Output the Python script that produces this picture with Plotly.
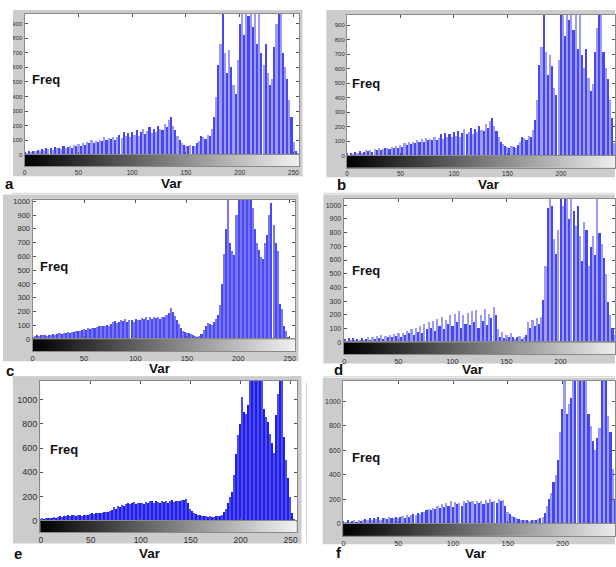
import plotly.graph_objects as go

# ---------------- data ----------------
bins = list(range(0, 256, 2))          # gray-level bins (pairs of levels)
gray_levels = list(range(256))          # gray ramp under each histogram
x_ticks = [0, 50, 100, 150, 200, 250]
panel_letters = ["a", "b", "c", "d", "e", "f"]
x_title = "Var"
y_title = "Freq"

freq_a = [20, 15, 25, 20, 30, 25, 35, 30, 40, 35,
          45, 40, 50, 35, 55, 45, 50, 40, 60, 50,
          55, 65, 50, 70, 60, 75, 65, 85, 70, 90,
          80, 100, 85, 95, 90, 105, 95, 120, 100, 115,
          110, 125, 105, 120, 140, 115, 155, 130, 150, 125,
          160, 140, 170, 130, 155, 175, 145, 165, 190, 150,
          180, 160, 200, 175, 170, 215, 190, 240, 260, 200,
          170, 130, 100, 85, 70, 65, 60, 70, 65, 60,
          80, 95, 130, 125, 110, 140, 130, 180, 260, 400,
          620, 760, 1100, 700, 560, 720, 600, 480, 420, 650,
          900, 1100, 820, 1100, 950, 1100, 880, 1100, 760, 980,
          700, 620, 760, 560, 480, 520, 740, 900, 1100, 1100,
          700, 600, 520, 380, 260, 90, 30, 10]

freq_b = [20, 10, 25, 15, 30, 20, 35, 25, 30, 40,
          35, 45, 30, 50, 40, 55, 45, 50, 60, 55,
          50, 65, 55, 70, 60, 80, 65, 90, 75, 95,
          85, 100, 90, 110, 95, 120, 100, 125, 110, 120,
          115, 130, 110, 125, 150, 120, 160, 135, 155, 130,
          165, 140, 175, 135, 160, 185, 150, 170, 195, 150,
          185, 165, 210, 180, 175, 225, 195, 240, 260, 210,
          175, 135, 100, 85, 70, 65, 60, 70, 65, 60,
          80, 95, 135, 125, 110, 140, 130, 180, 250, 390,
          630, 750, 1100, 720, 560, 700, 620, 470, 420, 660,
          980, 1100, 830, 1100, 940, 1100, 870, 1100, 740, 980,
          700, 610, 740, 540, 450, 500, 720, 880, 1100, 1100,
          720, 610, 530, 390, 260, 90, 30, 10]

freq_c = [20, 25, 30, 25, 30, 35, 30, 25, 30, 35,
          40, 35, 40, 45, 40, 50, 45, 55, 50, 55,
          55, 60, 60, 65, 70, 75, 70, 80, 75, 85,
          85, 90, 95, 100, 95, 100, 105, 100, 110, 130,
          135, 120, 130, 140, 135, 150, 130, 145, 140, 130,
          150, 145, 140, 155, 150, 160, 145, 165, 150, 160,
          155, 165, 150, 160, 165, 175, 190, 230, 200, 170,
          140, 110, 80, 65, 55, 50, 45, 40, 30, 25,
          20, 25, 40, 70, 100, 120, 110, 105, 130, 150,
          180, 250, 400, 620, 800, 1100, 700, 640, 610, 900,
          1100, 1100, 1100, 1100, 1100, 1100, 1100, 950, 800, 700,
          650, 600, 580, 700, 760, 900, 990, 830, 700, 640,
          260, 220, 100, 60, 20, 10, 0, 0]

freq_d = [30, 15, 35, 20, 35, 25, 30, 20, 35, 25,
          30, 40, 25, 45, 30, 50, 35, 55, 30, 50,
          45, 60, 40, 65, 50, 75, 45, 70, 60, 90,
          70, 100, 60, 110, 80, 120, 75, 140, 100, 150,
          110, 160, 90, 175, 120, 190, 100, 165, 140, 200,
          120, 210, 150, 230, 110, 200, 140, 220, 130, 230,
          150, 240, 110, 200, 160, 250, 130, 210, 180, 265,
          200, 100, 40, 80, 35, 60, 45, 70, 40, 30,
          40, 50, 30, 45, 60, 150, 110, 170, 120, 180,
          140, 190, 310, 560, 980, 1100, 1000, 760, 650, 820,
          1100, 1000, 1100, 1100, 900, 1100, 960, 850, 1000, 780,
          600, 880, 820, 560, 700, 780, 640, 1100, 800, 720,
          620, 500, 300, 200, 110, 60, 30, 10]

freq_e = [15, 20, 15, 20, 25, 20, 25, 30, 25, 30,
          35, 30, 35, 40, 45, 35, 50, 45, 40, 50,
          45, 40, 50, 45, 50, 55, 60, 55, 60, 65,
          60, 65, 70, 75, 70, 80, 90, 110, 100, 120,
          115, 130, 125, 140, 150, 135, 145, 155, 140, 150,
          145, 150, 140, 155, 150, 160, 165, 150, 160, 155,
          150, 165, 155, 160, 145, 165, 170, 155, 165, 160,
          165, 175, 170, 180, 150, 100, 80, 65, 55, 50,
          45, 40, 35, 35, 30, 35, 30, 30, 35, 40,
          40, 50, 70, 100, 150, 200, 240, 380, 550, 710,
          800, 1020, 900, 880, 960, 1250, 1250, 1250, 1250, 1250,
          1250, 1250, 920, 860, 820, 720, 640, 560, 870, 1050,
          1250, 1250, 690, 500, 350, 200, 60, 10]

freq_f = [25, 15, 30, 20, 25, 30, 20, 35, 25, 30,
          40, 30, 45, 35, 50, 40, 55, 35, 45, 50,
          40, 55, 45, 50, 60, 45, 55, 65, 50, 70,
          60, 75, 80, 70, 90, 85, 100, 95, 110, 120,
          110, 130, 120, 145, 130, 160, 140, 175, 150, 185,
          140, 180, 160, 175, 150, 190, 170, 195, 180, 190,
          160, 185, 170, 190, 160, 195, 175, 200, 180, 190,
          170, 200, 185, 195, 150, 100, 80, 65, 55, 45,
          40, 35, 30, 35, 30, 25, 30, 35, 30, 40,
          45, 60, 90, 150, 200, 250, 340, 400, 520, 750,
          940, 1250, 900, 980, 1030, 1250, 1250, 1250, 1250, 1250,
          1250, 1250, 900, 800, 680, 600, 700, 780, 1250, 1250,
          1250, 880, 750, 450, 200, 60, 20, 5]

series = [freq_a, freq_b, freq_c, freq_d, freq_e, freq_f]

# ---------------- layout geometry (pixels) ----------------
W, H = 616, 567
def fx(p):
    return p / W
def fy(p):
    return 1 - p / H

def sfx(n):
    return "" if n == 1 else str(n)

FONT = "Liberation Sans, Arial, sans-serif"

geom = [
    dict(x0=22.7, s=1.081, L=22.7, R=298.4, top=11.0, zero=154.0, cb=165.7, ymax=966, dt=100,
         frame=(11, 7, 302, 175.7), yfs=6, xfs=6.5, freq=(44, 78), var=(170.5, 183.5), let=(8, 183),
         dark="#4848ee", light="#9c9cf8"),
    dict(x0=346.7, s=1.075, L=346.7, R=616, top=11.7, zero=155.0, cb=167.0, ymax=972, dt=100,
         frame=(326, 7, 616, 176.7), yfs=6, xfs=6.5, freq=(366, 82), var=(489, 184.5), let=(341, 184),
         dark="#4848ee", light="#9c9cf8"),
    dict(x0=30.7, s=1.034, L=30.7, R=294.5, top=199.5, zero=341.0, cb=353.3, ymax=1011, dt=100,
         frame=(1, 194.3, 298, 363.3), yfs=7.5, xfs=7.5, freq=(52.5, 267), var=(159, 370.5), let=(8, 373),
         dark="#4a4af0", light="#7676f5"),
    dict(x0=344.0, s=1.086, L=343.3, R=616, top=198.3, zero=344.3, cb=356.0, ymax=1048, dt=100,
         frame=(323, 194.3, 616, 365.7), yfs=7, xfs=7.5, freq=(366, 271), var=(473.5, 371.5), let=(338, 372),
         dark="#4848ee", light="#9c9cf8"),
    dict(x0=39.0, s=1.004, L=38.3, R=296.7, top=383.3, zero=525.0, cb=536.7, ymax=1155, dt=200,
         frame=(11, 378.3, 301, 548.3), yfs=9, xfs=8.5, freq=(62.5, 453), var=(148.5, 558), let=(16.5, 558.5),
         dark="#1e1ee6", light="#4c4cef"),
    dict(x0=343.3, s=1.1, L=342.7, R=616, top=383.3, zero=528.3, cb=540.7, ymax=1166, dt=200,
         frame=(322.3, 380, 616, 549), yfs=7, xfs=7.5, freq=(366, 461), var=(476.5, 558), let=(338.5, 557.5),
         dark="#4646ee", light="#9a9af7"),
]

fig = go.Figure()
layout = dict(
    width=W, height=H, margin=dict(l=0, r=0, t=0, b=0),
    paper_bgcolor="white", plot_bgcolor="rgba(0,0,0,0)",
    showlegend=False, font=dict(family=FONT, color="#303030"),
)
shapes = []
annotations = []

# gray frames first (paper, below)
for g in geom:
    x1, y1, x2, y2 = g["frame"]
    shapes.append(dict(type="rect", xref="paper", yref="paper", layer="below",
                       x0=fx(x1), x1=fx(x2), y0=fy(y2), y1=fy(y1),
                       fillcolor="#cccccc", line=dict(width=0)))

for i, (g, vals, letter) in enumerate(zip(geom, series, panel_letters)):
    h = sfx(i + 1)
    c = sfx(i + 7)
    xr = [(g["L"] - g["x0"]) / g["s"], (g["R"] - g["x0"]) / g["s"]]
    cols = [g["dark"] if k % 2 == 0 else g["light"] for k in range(len(bins))]
    fig.add_trace(go.Bar(x=bins, y=vals, width=1.5, marker=dict(color=cols, line=dict(width=0)),
                         xaxis=f"x{h}", yaxis=f"y{h}", hoverinfo="skip"))
    fig.add_trace(go.Heatmap(z=[gray_levels], x=gray_levels, y=[0],
                             colorscale=[[0, "#000000"], [1, "#f2f2f2"]], zmin=0, zmax=255,
                             showscale=False, xaxis=f"x{c}", yaxis=f"y{c}", hoverinfo="skip"))
    xd = [fx(g["L"]), fx(g["R"])]
    axline = dict(showline=True, linecolor="#8a8a8a", linewidth=1, showgrid=False, zeroline=False)
    layout[f"xaxis{h}"] = dict(domain=xd, range=xr, anchor=f"y{h}", tickvals=x_ticks,
                               ticks="inside", ticklen=3, tickcolor="#555555", mirror="ticks",
                               showticklabels=False, **axline)
    layout[f"yaxis{h}"] = dict(domain=[fy(g["zero"]), fy(g["top"])], range=[0, g["ymax"]],
                               anchor=f"x{h}", dtick=g["dt"], tick0=0, ticks="inside", ticklen=3,
                               tickcolor="#555555", mirror="ticks",
                               tickfont=dict(size=g["yfs"], color="#303030"), **axline)
    layout[f"xaxis{c}"] = dict(domain=xd, range=xr, anchor=f"y{c}", tickvals=x_ticks,
                               ticks="", mirror=True,
                               tickfont=dict(size=g["xfs"], color="#303030"), **axline)
    layout[f"yaxis{c}"] = dict(domain=[fy(g["cb"]), fy(g["zero"])], range=[-0.5, 0.5],
                               anchor=f"x{c}", showticklabels=False, ticks="", mirror=True, **axline)
    # white plotting area
    shapes.append(dict(type="rect", xref=f"x{h} domain", yref=f"y{h} domain", layer="below",
                       x0=0, x1=1, y0=0, y1=1, fillcolor="white", line=dict(width=0)))
    annotations.append(dict(text=f"<b>{y_title}</b>", xref="paper", yref="paper",
                            x=fx(g["freq"][0]), y=fy(g["freq"][1]), showarrow=False,
                            xanchor="center", yanchor="middle",
                            font=dict(size=13, family=FONT, color="#111111")))
    annotations.append(dict(text=f"<b>{x_title}</b>", xref="paper", yref="paper",
                            x=fx(g["var"][0]), y=fy(g["var"][1]), showarrow=False,
                            xanchor="center", yanchor="middle",
                            font=dict(size=13.5, family=FONT, color="#111111")))
    annotations.append(dict(text=f"<b>{letter}</b>", xref="paper", yref="paper",
                            x=fx(g["let"][0]), y=fy(g["let"][1]), showarrow=False,
                            xanchor="center", yanchor="middle",
                            font=dict(size=15, family=FONT, color="#111111")))

# thin separator lines
for (xa, ya, xb, yb) in [(10, 193, 298, 193), (323, 193, 616, 193),
                         (10, 379, 290, 379), (323, 379, 616, 379), (306, 385, 306, 548)]:
    shapes.append(dict(type="line", xref="paper", yref="paper", layer="above",
                       x0=fx(xa), x1=fx(xb), y0=fy(ya), y1=fy(yb),
                       line=dict(color="#d6d6d6", width=1)))
# crop of the left margin of the top-left panel
shapes.append(dict(type="rect", xref="paper", yref="paper", layer="above",
                   x0=0, x1=fx(11), y0=fy(180), y1=1, fillcolor="white", line=dict(width=0)))

layout["shapes"] = shapes
layout["annotations"] = annotations
layout["bargap"] = 0
fig.update_layout(**layout)
fig.write_html("out.html", config={"displayModeBar": False},
               post_script="document.body.style.margin='0';document.body.style.overflow='hidden';")
